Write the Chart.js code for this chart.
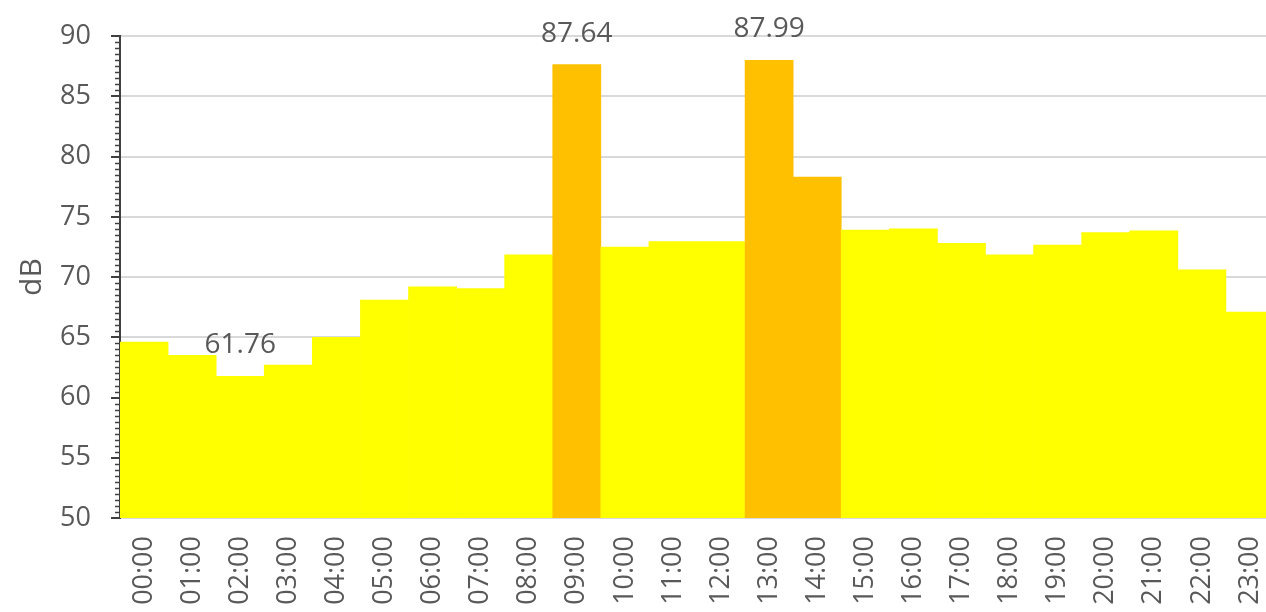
<!DOCTYPE html>
<html>
<head>
<meta charset="utf-8">
<script src="https://cdn.jsdelivr.net/npm/chart.js@4/dist/chart.umd.min.js"></script>
<style>
	html, body { margin: 0; padding: 0; background: #fff; overflow: hidden; }
	#wrap { width: 1274px; height: 612px; }
</style>
</head>
<body>
<div id="wrap"><canvas id="graficoRuido"></canvas></div>
<script>
const horas = [
	'00:00', '01:00', '02:00', '03:00', '04:00', '05:00',
	'06:00', '07:00', '08:00', '09:00', '10:00', '11:00',
	'12:00', '13:00', '14:00', '15:00', '16:00', '17:00',
	'18:00', '19:00', '20:00', '21:00', '22:00', '23:00',
];

const nivelDb = [
	64.6, 63.5, 61.76, 62.7, 65.0, 68.1, 69.2, 69.05, 71.85, 87.64, 72.5, 72.95,
	72.95, 87.99, 78.3, 73.9, 74.0, 72.8, 71.85, 72.65, 73.7, 73.85, 70.6, 67.1,
];

const horasDestaque = ['09:00', '13:00', '14:00'];
const horasRotulo = ['02:00', '09:00', '13:00'];
const ticksY = [50, 55, 60, 65, 70, 75, 80, 85, 90];

const corTexto = '#595959';
const fonte = "'Open Sans', 'Noto Sans', sans-serif";

// marcas menores do eixo y (a cada 0,5 dB)
const marcasMenores = {
	id: 'marcasMenores',
	afterDatasetsDraw(chart) {
		const y = chart.scales.y;
		const ctx = chart.ctx;
		ctx.save();
		ctx.strokeStyle = '#404040';
		ctx.lineWidth = 1.5;
		for (let v = y.min; v <= y.max; v += 0.5) {
			if (v % 5 === 0) continue;
			const py = Math.round(y.getPixelForValue(v)) + 0.5;
			ctx.beginPath();
			ctx.moveTo(y.right - 5, py);
			ctx.lineTo(y.right, py);
			ctx.stroke();
		}
		ctx.restore();
	},
};

// rótulos de valor acima de algumas barras
const rotulosValor = {
	id: 'rotulosValor',
	afterDatasetsDraw(chart) {
		const meta = chart.getDatasetMeta(0);
		const ctx = chart.ctx;
		ctx.save();
		ctx.fillStyle = corTexto;
		ctx.font = '28px ' + fonte;
		ctx.textAlign = 'center';
		ctx.textBaseline = 'bottom';
		horasRotulo.forEach((h) => {
			const i = horas.indexOf(h);
			const bar = meta.data[i];
			ctx.fillText(nivelDb[i].toFixed(2), bar.x, bar.y - 17);
		});
		ctx.restore();
	},
};

document.addEventListener('DOMContentLoaded', () => {
	new Chart(document.getElementById('graficoRuido'), {
		type: 'bar',
		data: {
			labels: horas,
			datasets: [
				{
					label: 'dB',
					data: nivelDb,
					backgroundColor: horas.map((h) => (horasDestaque.includes(h) ? '#FFC000' : '#FFFF00')),
					borderWidth: 0,
					categoryPercentage: 1,
					barPercentage: 1,
				},
			],
		},
		options: {
			responsive: true,
			maintainAspectRatio: false,
			animation: false,
			layout: {
				padding: { top: 35, right: 0, bottom: 0, left: 0 },
			},
			plugins: {
				legend: { display: false },
				tooltip: { enabled: false },
			},
			scales: {
				x: {
					afterFit: (scale) => {
						scale.height = 94;
						scale.paddingRight = 0;
						scale.paddingLeft = 0;
					},
					grid: {
						display: false,
						drawTicks: false,
					},
					border: {
						display: true,
						color: '#D9D9E6',
						width: 2,
					},
					ticks: {
						color: corTexto,
						minRotation: 90,
						maxRotation: 90,
						padding: 18,
						autoSkip: false,
						font: { family: fonte, size: 27 },
					},
				},
				y: {
					min: 50,
					max: 90,
					afterFit: (scale) => { scale.width = 120; },
					afterBuildTicks: (scale) => {
						scale.ticks = ticksY.map((v) => ({ value: v }));
					},
					title: {
						display: true,
						text: 'dB',
						color: corTexto,
						padding: { top: 14, bottom: 0 },
						font: { family: fonte, size: 30 },
					},
					grid: {
						color: '#D9D9D9',
						lineWidth: 2,
						tickLength: 9,
						tickColor: '#404040',
						tickWidth: 2,
					},
					border: {
						display: true,
						color: '#404040',
						width: 2,
					},
					ticks: {
						color: corTexto,
						padding: 20,
						font: { family: fonte, size: 27 },
					},
				},
			},
		},
		plugins: [marcasMenores, rotulosValor],
	});
});
</script>
</body>
</html>
